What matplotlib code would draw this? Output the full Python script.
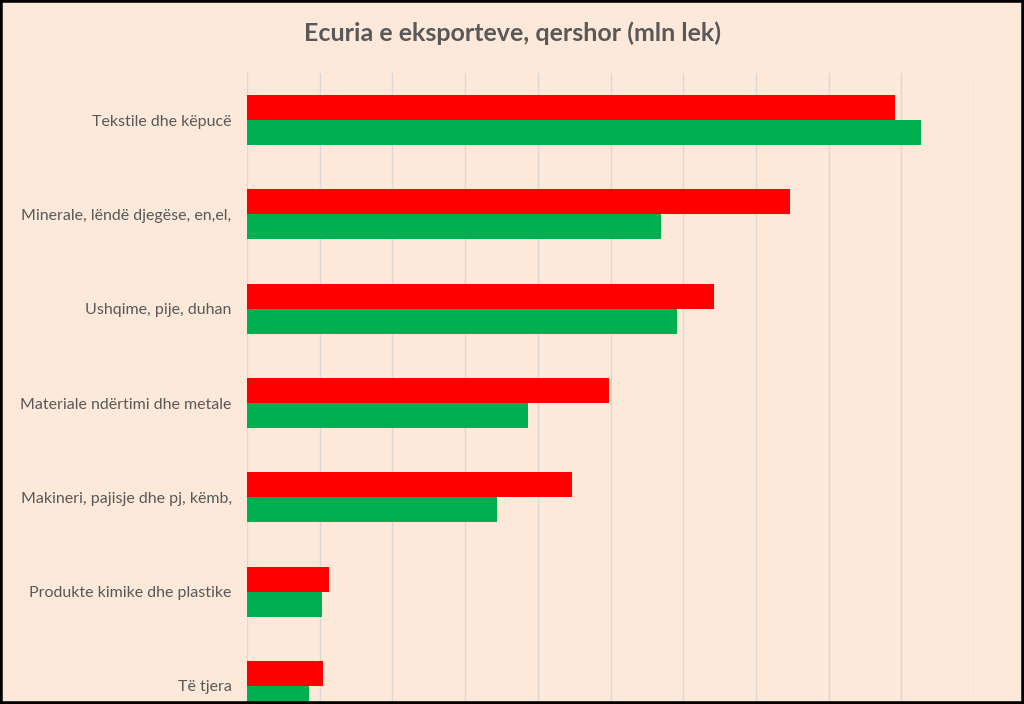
import numpy as np
import matplotlib
matplotlib.use("Agg")
import matplotlib.pyplot as plt
from matplotlib.patches import Rectangle

plt.rcParams["font.family"] = ["Lato", "DejaVu Sans"]

categories = ["Tekstile dhe këpucë", "Minerale, lëndë djegëse, en,el,",
              "Ushqime, pije, duhan", "Materiale ndërtimi dhe metale",
              "Makineri, pajisje dhe pj, këmb,", "Produkte kimike dhe plastike",
              "Të tjera"]
seria_kuqe = [8910, 7470, 6420, 4980, 4470, 1130, 1050]
seria_gjelber = [9270, 5690, 5910, 3870, 3440, 1030, 850]

bg = "#FDE9D9"
fig = plt.figure(figsize=(10.24, 7.04), dpi=100, facecolor=bg)
ax = fig.add_axes([247 / 1024, -29 / 704, 727 / 1024, 660 / 704])
ax.set_facecolor(bg)

y = np.arange(len(categories))
h = 0.265
ax.barh(y - h / 2, seria_kuqe, height=h, color="#FF0000", label="qershor 1", zorder=3)
ax.barh(y + h / 2, seria_gjelber, height=h, color="#00B050", label="qershor 2", zorder=3)

ax.set_xlim(0, 10000)
ax.set_ylim(len(categories) - 0.5, -0.5)
ax.set_xticks(np.arange(0, 10001, 1000))
ax.xaxis.grid(True, color="#D9D9D9", linewidth=1, zorder=0)
ax.tick_params(axis="x", length=0, labelbottom=False)
ax.set_yticks(y)
ax.set_yticklabels(categories, fontsize=11.5, color="#595959")
ax.tick_params(axis="y", length=0, pad=11)
for s in ax.spines.values():
    s.set_visible(False)

fig.text(0.5, 1 - 33 / 704, "Ecuria e eksporteve, qershor (mln lek)", ha="center", va="center",
         fontsize=18, fontweight="bold", color="#595959")

fig.patches.append(Rectangle((0, 0), 1, 1, transform=fig.transFigure, fill=False,
                             edgecolor="black", linewidth=4, zorder=10))

fig.savefig("out.png", dpi=100, facecolor=bg)
